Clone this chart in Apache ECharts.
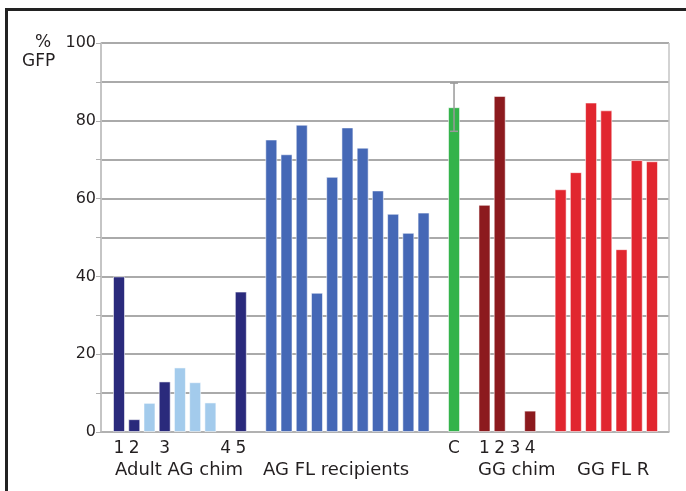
<!DOCTYPE html>
<html>
<head>
<meta charset="utf-8">
<script src="https://cdn.jsdelivr.net/npm/echarts@6/dist/echarts.min.js"></script>
<style>
html,body{margin:0;padding:0;background:#fff;}
#chart{width:686px;height:491px;}
</style>
</head>
<body>
<div id="chart"></div>
<script>
// ---- data ----
const categories = ['1','2','','3','','','','4','5','',
  '','','','','','','','','','','',
  '','C','','1','2','3','4','',
  '','','','','','',''];
const gfpPercent = [40, 3.3, 7.5, 13.0, 16.6, 12.8, 7.6, null, 36.1, null,
  75.2, 71.4, 79.0, 35.8, 65.6, 78.3, 73.1, 62.1, 56.1, 51.2, 56.4,
  null, 83.5, null, 58.4, 86.4, null, 5.5, null,
  62.4, 66.8, 84.7, 82.7, 47.0, 69.9, 69.6];
const barGroup = ['adult','adult','adultLow','adult','adultLow','adultLow','adultLow',null,'adult',null,
  'agfl','agfl','agfl','agfl','agfl','agfl','agfl','agfl','agfl','agfl','agfl',
  null,'control',null,'ggchim','ggchim',null,'ggchim',null,
  'ggfl','ggfl','ggfl','ggfl','ggfl','ggfl','ggfl'];
const errorBars = [[22, 77.3, 89.7]];
const yTickLabels = [0, 20, 40, 60, 80, 100];
const groupLabels = ['Adult AG chim', 'AG FL recipients', 'GG chim', 'GG FL R'];

// ---- styles ----
const groupColors = {
  adult: '#2a2a7c', adultLow: '#a3cbec', agfl: '#4568b6',
  control: '#33b34a', ggchim: '#8c1a1e', ggfl: '#e1262f'
};
const groupLabelLeft = [115, 263, 478, 577];
const txt = '#231f20';
const font = 'DejaVu Sans';

const barData = gfpPercent.map((v, i) => ({
  value: v,
  itemStyle: { color: barGroup[i] ? groupColors[barGroup[i]] : '#000' }
}));

const chart = echarts.init(document.getElementById('chart'), null, {renderer: 'canvas'});
chart.setOption({
  animation: false,
  backgroundColor: '#fff',
  grid: [
    {left: 101, right: 17, top: 43, bottom: 59},
    {left: 111.4, right: 26.4, top: 43, bottom: 59}
  ],
  xAxis: [
    {gridIndex: 0, type: 'value', min: 0, max: 1, interval: 1,
     axisLabel: {show: false}, axisTick: {show: false},
     axisLine: {show: true, lineStyle: {color: '#b4b4b4', width: 1.5}},
     splitLine: {show: true, lineStyle: {color: '#c4c4c4', width: 1.5}}},
    {gridIndex: 1, type: 'category', data: categories, boundaryGap: true,
     axisLine: {show: false}, axisTick: {show: false}, splitLine: {show: false},
     axisLabel: {interval: 0, margin: 8, color: txt, fontSize: 17, fontFamily: font}}
  ],
  yAxis: [
    {gridIndex: 0, type: 'value', min: 0, max: 100, interval: 10,
     axisLine: {show: true, lineStyle: {color: '#c0c0c0', width: 1.5}},
     axisTick: {show: true, length: 5, lineStyle: {color: '#b0b0b0', width: 1}},
     splitLine: {show: true, lineStyle: {color: '#8e8e8e', width: 1.5}},
     axisLabel: {margin: 5, color: txt, fontSize: 16, fontFamily: font,
       formatter: v => yTickLabels.indexOf(v) >= 0 ? String(v) : ''}},
    {gridIndex: 1, type: 'value', min: 0, max: 100, show: false}
  ],
  series: [
    {type: 'bar', xAxisIndex: 1, yAxisIndex: 1, data: barData, barWidth: 12,
     itemStyle: {borderColor: 'rgba(255,255,255,0.55)', borderWidth: 1}, z: 3},
    {type: 'custom', xAxisIndex: 1, yAxisIndex: 1, data: errorBars, z: 4,
     renderItem: function (params, api) {
       const x = api.value(0);
       const lo = api.coord([x, api.value(1)]);
       const hi = api.coord([x, api.value(2)]);
       const cap = 4;
       const style = {stroke: '#999', lineWidth: 1.5};
       return {type: 'group', children: [
         {type: 'line', shape: {x1: lo[0], y1: lo[1], x2: hi[0], y2: hi[1]}, style: style},
         {type: 'line', shape: {x1: hi[0]-cap, y1: hi[1], x2: hi[0]+cap, y2: hi[1]}, style: style},
         {type: 'line', shape: {x1: lo[0]-cap, y1: lo[1], x2: lo[0]+cap, y2: lo[1]}, style: style}
       ]};
     }}
  ],
  graphic: [
    {type: 'polyline', shape: {points: [[6.5, 495], [6.5, 9.5], [700, 9.5]]},
     style: {stroke: '#222', lineWidth: 3, fill: null}, silent: true},
    {type: 'text', left: 35, top: 34, style: {text: '%', font: '17px "DejaVu Sans"', fill: txt}},
    {type: 'text', left: 22, top: 53, style: {text: 'GFP', font: '17px "DejaVu Sans"', fill: txt}}
  ].concat(groupLabels.map((t, i) => ({
    type: 'text', left: groupLabelLeft[i], top: 461,
    style: {text: t, font: '18px "DejaVu Sans"', fill: txt}
  })))
});
</script>
</body>
</html>
